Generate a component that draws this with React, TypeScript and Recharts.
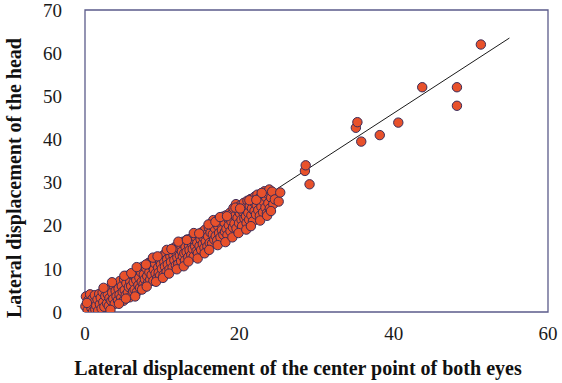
import React from 'react'
import { ScatterChart, Scatter, XAxis, YAxis, ReferenceArea } from 'recharts'

// lateral displacement of the center point of both eyes (x) vs head (y)
const eyeX = [
  0.05, 0.12, 0.35, 0.42, 0.58, 0.66, 0.83, 0.97, 1.05, 1.18, 1.27, 1.33, 1.46, 1.62, 1.71, 1.84, 1.93, 2.04, 2.15, 0.25,
  2.28, 2.37, 2.51, 2.63, 2.74, 2.86, 2.95, 3.08, 3.17, 3.29, 3.41, 3.52, 3.66, 3.73, 3.85, 3.97, 4.08, 4.16,
  4.27, 4.35, 4.48, 4.53, 4.69, 4.77, 4.88, 4.99, 5.06, 5.14, 5.28, 5.36, 5.47, 5.55, 5.68, 5.79, 5.86, 5.98, 6.11, 6.24,
  6.31, 6.43, 6.52, 6.64, 6.71, 6.85, 6.92, 7.04, 7.13, 7.27, 7.35, 7.44, 7.58, 7.62, 7.76, 7.83, 7.95, 8.06, 8.17, 8.26,
  8.34, 8.45, 8.57, 8.63, 8.74, 8.86, 8.93, 9.07, 9.15, 9.24, 9.36, 9.48, 9.55, 9.67, 9.73, 9.84, 9.96, 10.05, 10.18, 10.27,
  10.36, 10.44, 10.57, 10.65, 10.73, 10.88, 10.95, 11.06, 11.14, 11.27, 11.35, 11.46, 11.58, 11.64, 11.77, 11.85, 11.97, 12.08, 12.16, 12.29,
  12.37, 12.45, 12.56, 12.68, 12.74, 12.87, 12.95, 13.03, 13.16, 13.24, 13.38, 13.47, 13.55, 13.69, 13.77, 13.84, 13.96, 14.07, 14.15, 14.28,
  14.34, 14.46, 14.55, 14.63, 14.76, 14.84, 14.97, 15.05, 15.17, 15.26, 15.34, 15.48, 15.57, 15.65, 15.78, 15.86, 15.95, 16.04, 16.16, 16.27,
  16.35, 16.47, 16.56, 16.62, 16.75, 16.83, 16.94, 17.07, 17.13, 17.26, 17.37, 17.45, 17.56, 17.68, 17.74, 17.87, 17.93, 18.05, 18.14, 18.26,
  18.33, 18.46, 18.57, 18.64, 18.78, 18.85, 18.97, 19.06, 19.18, 19.24, 19.37, 19.45, 19.56, 19.63, 19.77, 19.84, 19.96, 20.07, 20.15, 20.28,
  20.36, 20.44, 20.58, 20.65, 20.77, 20.86, 20.94, 21.05, 21.16, 21.27, 21.35, 21.47, 21.56, 21.64, 21.76, 21.85, 21.97, 22.04, 22.16, 22.25,
  22.34, 22.45, 22.57, 22.66, 22.78, 22.86, 22.97, 23.08, 23.16, 23.27, 23.38, 23.46, 23.57, 23.68, 23.76, 23.88, 23.95, 24.12, 24.25, 24.4,
  // edges of the band
  2.4, 3.3, 3.5, 4.4, 5.1, 5.3, 6.0, 6.5, 6.7, 7.4, 7.9, 8.0, 8.8, 9.2, 9.4, 10.1, 10.6, 10.9, 11.2, 11.9, 12.1, 12.8, 13.2,
  13.4, 14.1, 14.6, 14.8, 15.5, 16.0, 16.1, 16.9, 17.2, 17.5, 18.2, 18.4, 19.1, 19.5, 19.9, 20.1, 20.9, 21.3, 21.5, 22.2,
  22.7, 22.9, 23.6, 24.1,
  // sparse tail
  24.6, 25.1, 25.3, 28.5, 28.6, 29.1, 35.1, 35.3, 35.8, 38.2, 40.6, 43.7, 48.2, 48.2, 51.3,
]

const headY = [
  1.3, 3.6, 0.4, 2.7, 1.9, 4.1, 0.9, 3.0, 0.1, 2.2, 3.9, 0.6, 1.5, 2.9, 0.3, 4.2, 1.8, 3.3, 0.8, 2.1,
  4.6, 2.3, 1.2, 3.7, 5.3, 2.0, 4.1, 1.4, 3.2, 5.8, 2.6, 4.5, 3.0, 6.1, 1.9, 4.9, 3.6, 6.5,
  2.7, 5.4, 4.0, 7.2, 3.3, 6.0, 4.7, 2.6, 7.6, 5.1, 3.9, 6.7, 8.4, 4.5, 5.8, 3.4, 7.1, 6.0, 8.6, 4.8,
  6.9, 5.2, 8.3, 7.4, 4.6, 9.6, 6.2, 8.0, 5.6, 9.2, 7.0, 10.5, 6.4, 8.7, 7.6, 5.9, 10.1, 8.3, 6.8, 11.4,
  9.2, 7.5, 10.8, 8.6, 12.0, 7.2, 9.8, 11.3, 8.9, 12.6, 7.9, 10.3, 9.1, 12.1, 8.4, 11.0, 10.0, 13.0, 8.6, 11.7,
  10.5, 13.6, 9.3, 12.2, 11.0, 14.1, 9.9, 12.9, 11.6, 14.6, 10.3, 13.2, 12.0, 15.0, 10.8, 13.7, 12.6, 11.1, 14.9, 13.1,
  15.6, 11.8, 14.0, 12.9, 16.3, 13.6, 11.9, 15.1, 13.9, 16.8, 12.7, 15.4, 14.3, 17.0, 13.2, 15.9, 14.6, 12.8, 16.5, 15.2,
  17.4, 14.1, 16.0, 13.6, 18.0, 15.3, 16.9, 14.4, 18.5, 15.8, 17.3, 14.9, 19.1, 16.4, 18.0, 15.2, 17.5, 19.6, 16.0, 18.4,
  20.2, 15.9, 18.0, 21.3, 16.8, 19.4, 17.6, 21.0, 16.6, 19.9, 18.3, 21.8, 17.3, 20.4, 19.0, 22.1, 17.9, 20.8, 18.6, 22.4,
  19.3, 17.8, 21.6, 20.1, 23.0, 18.7, 21.0, 22.8, 19.6, 24.1, 20.5, 22.3, 25.0, 19.4, 21.8, 23.6, 20.6, 22.9, 24.7, 21.4,
  19.9, 23.3, 25.3, 21.7, 24.1, 22.2, 20.6, 25.8, 23.0, 21.4, 24.6, 26.2, 22.4, 24.0, 21.0, 25.5, 23.4, 26.8, 22.6, 24.8,
  27.2, 23.6, 25.9, 22.3, 26.7, 24.4, 27.6, 23.1, 25.6, 28.0, 24.2, 26.6, 22.9, 27.4, 25.2, 28.4, 24.0, 26.5, 27.9, 25.0,
  // edges of the band
  5.6, 0.5, 6.9, 1.9, 8.4, 3.1, 9.0, 3.6, 10.4, 5.2, 11.0, 5.9, 12.6, 7.0, 12.9, 7.9, 14.4, 8.9, 14.6, 9.9, 16.3, 10.6, 16.7,
  11.7, 18.3, 12.4, 18.2, 13.6, 20.3, 14.4, 20.9, 15.5, 22.0, 16.2, 22.2, 17.3, 24.2, 18.3, 24.0, 19.1, 25.9, 19.9, 26.0,
  21.2, 27.6, 22.3, 23.4,
  // sparse tail
  26.1, 25.6, 27.7, 32.7, 34.0, 29.6, 42.7, 44.0, 39.5, 41.0, 43.9, 52.1, 52.1, 47.8, 62.0,
]

// linear fit drawn through the cloud
const fitX = [0.3, 55]
const fitY = [0, 63.5]

const xTicks = [0, 20, 40, 60]
const yTicks = [0, 10, 20, 30, 40, 50, 60, 70]

const points = eyeX.map((x, i) => ({ x, y: headY[i] }))
const fit = fitX.map((x, i) => ({ x, y: fitY[i] }))

const serif = '"Liberation Serif", "Times New Roman", serif'

const XTick = (p: any) => (
  <text x={p.x} y={p.y} dy="0.71em" textAnchor="middle" fontFamily={serif} fontSize={19} fill="#1a1a1a">
    {p.payload.value}
  </text>
)

const YTick = (p: any) => (
  <text x={p.x} y={p.y} dy="0.35em" textAnchor="end" fontFamily={serif} fontSize={19} fill="#1a1a1a">
    {p.payload.value}
  </text>
)

const Dot = (props: any) => (
  <circle cx={props.cx} cy={props.cy} r={4.7} fill="#e8512b" stroke="#3a2c5a" strokeWidth={1} />
)

export default function App() {
  return (
    <div style={{ position: 'absolute', left: 0, top: 0, width: 562, height: 383, background: '#fff' }}>
      <ScatterChart width={562} height={383} margin={{ top: 10, right: 14, bottom: 31, left: 25 }}>
        <XAxis
          type="number"
          dataKey="x"
          domain={[0, 60]}
          ticks={xTicks}
          tick={XTick}
          tickLine={false}
          axisLine={false}
          tickMargin={9}
          height={40}
        />
        <YAxis
          type="number"
          dataKey="y"
          domain={[0, 70]}
          ticks={yTicks}
          tick={YTick}
          tickLine={false}
          axisLine={false}
          tickMargin={17}
          width={60}
          allowDataOverflow
        />
        <ReferenceArea x1={0} x2={60} y1={0} y2={70} fill="none" stroke="#5b5b8a" strokeWidth={1.3} />
        <Scatter data={fit} line={{ stroke: '#1a1a1a', strokeWidth: 1 }} shape={() => <g />} isAnimationActive={false} />
        <Scatter data={points} shape={Dot} isAnimationActive={false} />
        <text x={298} y={375} textAnchor="middle" fontFamily={serif} fontWeight="bold" fontSize={20} fill="#111">
          Lateral displacement of the center point of both eyes
        </text>
        <text
          x={21}
          y={178}
          textAnchor="middle"
          transform="rotate(-90 21 178)"
          fontFamily={serif}
          fontWeight="bold"
          fontSize={20}
          fill="#111"
        >
          Lateral displacement of the head
        </text>
      </ScatterChart>
    </div>
  )
}
